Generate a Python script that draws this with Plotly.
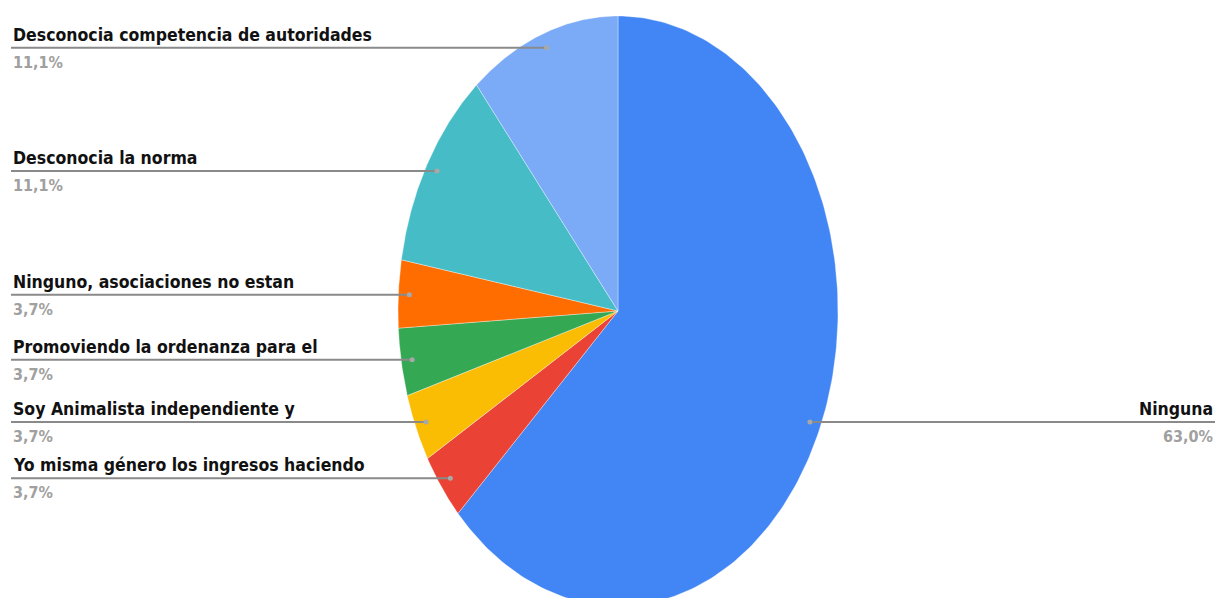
import numpy as np
import plotly.graph_objects as go

labels = ["Ninguna",
          "Yo misma género los ingresos haciendo",
          "Soy Animalista independiente y",
          "Promoviendo la ordenanza para el",
          "Ninguno, asociaciones no estan",
          "Desconocia la norma",
          "Desconocia competencia de autoridades"]
values = [17, 1, 1, 1, 1, 3, 3]
pct_text = ["63,0%", "3,7%", "3,7%", "3,7%", "3,7%", "11,1%", "11,1%"]
colors = ["#4285F4", "#EA4335", "#FBBC04", "#34A853", "#FF6D01", "#46BDC6", "#7BAAF7"]

OFF = 8  # page body margin
W, H = 1225 - OFF, 598 - OFF
CX, CY, RX, RY = 618 - OFF, 311 - OFF, 220, 295   # pixel geometry of the ellipse

# axis ranges so that a unit circle appears as the ellipse
xr = [-CX / RX, (W - CX) / RX]
yr = [-(H - CY) / RY, CY / RY]

fig = go.Figure()
total = sum(values)
cum = 0.0
dots = []
for lab, v, col in zip(labels, values, colors):
    a0 = cum / total * 2 * np.pi
    a1 = (cum + v) / total * 2 * np.pi
    t = np.linspace(a0, a1, 200)
    xs = np.concatenate([[0], np.sin(t), [0]])
    ys = np.concatenate([[0], np.cos(t), [0]])
    fig.add_trace(go.Scatter(x=xs, y=ys, fill="toself", fillcolor=col, mode="lines",
                             line=dict(color="rgba(255,255,255,0.6)", width=0.6),
                             hoverinfo="skip", showlegend=False))
    am = (a0 + a1) / 2
    dots.append((0.95 * np.sin(am), 0.95 * np.cos(am)))
    cum += v

FONT = "DejaVu Sans Condensed, DejaVu Sans"
x_left = (11 - OFF - CX) / RX
x_right = (1215 - OFF - CX) / RX
for lab, pt, (dx, dy) in zip(labels, pct_text, dots):
    right = dx > 0
    xe = x_right if right else x_left
    fig.add_trace(go.Scatter(x=[xe, dx], y=[dy, dy], mode="lines",
                             line=dict(color="#8a8a8a", width=2),
                             hoverinfo="skip", showlegend=False))
    fig.add_trace(go.Scatter(x=[dx], y=[dy], mode="markers",
                             marker=dict(color="#a8a8a8", size=5),
                             hoverinfo="skip", showlegend=False))
    anchor = "right" if right else "left"
    fig.add_annotation(x=xe, y=dy, xref="x", yref="y", text="<b>%s</b>" % lab,
                       showarrow=False, xanchor=anchor, yanchor="bottom", yshift=1,
                       font=dict(family=FONT, size=17.5, color="#111111"))
    fig.add_annotation(x=xe, y=dy, xref="x", yref="y", text="<b>%s</b>" % pt,
                       showarrow=False, xanchor=anchor, yanchor="top", yshift=-3,
                       font=dict(family=FONT, size=16, color="#a0a0a0"))

fig.update_xaxes(range=xr, visible=False, fixedrange=True)
fig.update_yaxes(range=yr, visible=False, fixedrange=True)
fig.update_layout(width=W, height=H, margin=dict(l=0, r=0, t=0, b=0),
                  paper_bgcolor="white", plot_bgcolor="white")
fig.write_html("out.html")
